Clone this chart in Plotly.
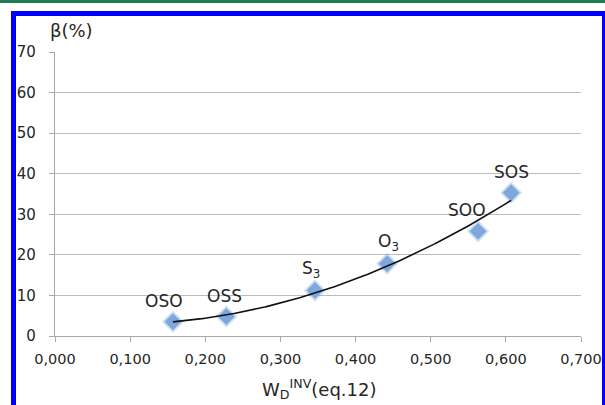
import numpy as np
import plotly.graph_objects as go

# ---- data ----
samples = ["OSO", "OSS", "S<sub>3</sub>", "O<sub>3</sub>", "SOO", "SOS"]
wd_inv = [0.157, 0.228, 0.346, 0.442, 0.563, 0.607]
beta_pct = [3.5, 4.8, 11.2, 17.8, 25.8, 35.3]
x_ticks = [0.0, 0.1, 0.2, 0.3, 0.4, 0.5, 0.6, 0.7]
x_tick_labels = ["0,000", "0,100", "0,200", "0,300", "0,400", "0,500", "0,600", "0,700"]
y_ticks = [0, 10, 20, 30, 40, 50, 60, 70]

# ---- layout geometry (pixels) ----
W, H = 605, 405
L, R, T, B = 55, 24, 52, 69
PW, PH = W - L - R, H - T - B


def px(x):
    return (x - L) / PW


def py(y):
    return (H - B - y) / PH


FONT = "DejaVu Sans"
TXT = "#262626"

fig = go.Figure()

# polynomial (order 2) trend line fitted to the data
coef = np.polyfit(wd_inv, beta_pct, 2)
xt = np.linspace(min(wd_inv), max(wd_inv), 200)

fig.add_trace(go.Scatter(x=wd_inv, y=beta_pct, mode="markers",
                         marker=dict(symbol="diamond", size=17,
                                     color="rgba(120,160,215,0.35)", line=dict(width=0)),
                         hoverinfo="skip", showlegend=False))
fig.add_trace(go.Scatter(x=wd_inv, y=beta_pct, mode="markers",
                         marker=dict(symbol="diamond", size=13,
                                     color="#7ea8dc", line=dict(width=0)),
                         showlegend=False))
fig.add_trace(go.Scatter(x=xt, y=np.polyval(coef, xt), mode="lines",
                         line=dict(color="#111111", width=1.6),
                         hoverinfo="skip", showlegend=False))

label_xshift = [-9, -2, -4, 1, -11, 0]
for name, xv, yv, dx in zip(samples, wd_inv, beta_pct, label_xshift):
    fig.add_annotation(x=xv, y=yv, text=name, showarrow=False,
                       xshift=dx, yshift=21, font=dict(family=FONT, size=17, color=TXT))

fig.add_annotation(xref="paper", yref="paper", x=px(48), y=py(30), xanchor="left",
                   yanchor="middle", text="β(%)", showarrow=False,
                   font=dict(family=FONT, size=18, color=TXT))
fig.add_annotation(xref="paper", yref="paper", x=px(319), y=py(389), xanchor="center",
                   yanchor="middle", text="W<sub>D</sub><sup>INV</sup>(eq.12)", showarrow=False,
                   font=dict(family=FONT, size=18, color=TXT))

shapes = [
    dict(x0=px(0), x1=px(605), y0=py(0), y1=py(3), color="#1f7d4f"),
    dict(x0=px(11), x1=px(16), y0=py(11), y1=py(405), color="#0000ff"),
    dict(x0=px(11), x1=px(605), y0=py(11), y1=py(16), color="#0000ff"),
    dict(x0=px(602), x1=px(605), y0=py(11), y1=py(405), color="#0000ff"),
]
for s in shapes:
    fig.add_shape(type="rect", xref="paper", yref="paper", x0=s["x0"], x1=s["x1"],
                  y0=s["y0"], y1=s["y1"], fillcolor=s["color"], line=dict(width=0),
                  layer="above")

fig.update_layout(
    width=W, height=H, margin=dict(l=L, r=R, t=T, b=B, autoexpand=False),
    paper_bgcolor="white", plot_bgcolor="white",
    font=dict(family=FONT, size=15, color=TXT),
    xaxis=dict(range=[0, 0.7], tickvals=x_ticks, ticktext=x_tick_labels, automargin=False,
               showgrid=False, zeroline=False, showline=True, linecolor="#a8a8a8",
               linewidth=1.3, ticks="outside", ticklen=5, tickcolor="#a8a8a8",
               tickfont=dict(family=FONT, size=14.5, color=TXT), ticklabelstandoff=4),
    yaxis=dict(range=[0, 70], tickvals=y_ticks, showgrid=True, gridcolor="#bcbcbc",
               gridwidth=1.3, zeroline=False, showline=True, linecolor="#a8a8a8",
               linewidth=1.3, ticks="outside", ticklen=5, tickcolor="#a8a8a8", automargin=False,
               tickfont=dict(family=FONT, size=15, color=TXT), ticklabelstandoff=10),
)

fig.write_html("out.html", config={"displayModeBar": False, "responsive": False},
               post_script="document.body.style.margin='0';document.body.style.overflow='hidden';")
